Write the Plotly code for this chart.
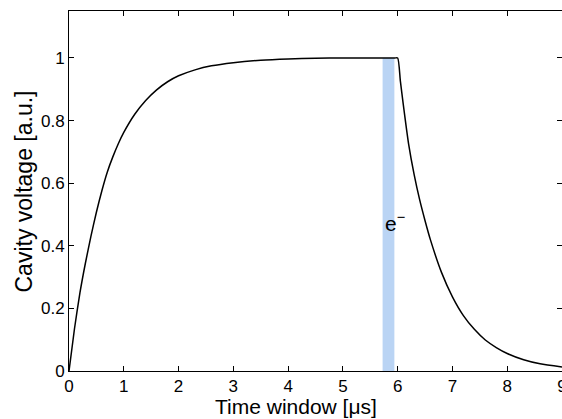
import plotly.graph_objects as go

# Data
time_us = [0, 0.1, 0.2, 0.3, 0.4, 0.5, 0.6, 0.7, 0.8, 0.9, 1.0, 1.2, 1.4, 1.6, 1.8, 2.0,
           2.3, 2.6, 3.0, 3.5, 4.0, 4.5, 5.0, 5.5, 5.95, 6.0,
           6.05, 6.1, 6.2, 6.3, 6.4, 6.5, 6.6, 6.8, 7.0, 7.2, 7.4, 7.6, 7.8, 8.0, 8.3, 8.6, 9.0]
voltage = [0, 0.135, 0.25, 0.345, 0.43, 0.507, 0.576, 0.636, 0.684, 0.726, 0.762, 0.82, 0.864,
           0.898, 0.924, 0.943, 0.962, 0.975, 0.985, 0.993, 0.997, 0.999, 1.0, 1.0, 1.0, 1.0,
           0.925, 0.855, 0.725, 0.628, 0.548, 0.48, 0.418, 0.315, 0.237, 0.177, 0.133, 0.099,
           0.075, 0.056, 0.036, 0.023, 0.013]

band_start = 5.725
band_end = 5.94
band_top = 1.0

label_x = 5.95
label_y = 0.475
label_text = "e<sup>−</sup>"

x_ticks = [0, 1, 2, 3, 4, 5, 6, 7, 8, 9]
x_tick_text = ["0", "1", "2", "3", "4", "5", "6", "7", "8", "9"]
y_ticks = [0, 0.2, 0.4, 0.6, 0.8, 1.0]
y_tick_text = ["0", "0.2", "0.4", "0.6", "0.8", "1"]

x_title = "Time window [μs]"
y_title = "Cavity voltage [a.u.]"

FONT = "Liberation Sans, Arial, Helvetica, sans-serif"

fig = go.Figure()

fig.add_trace(go.Scatter(
    x=[band_start, band_end, band_end, band_start, band_start],
    y=[0, 0, band_top, band_top, 0],
    fill="toself", fillcolor="#bad4f4", line=dict(width=0, color="#bad4f4"),
    mode="lines", hoverinfo="skip", showlegend=False))

fig.add_trace(go.Scatter(
    x=time_us, y=voltage, mode="lines",
    line=dict(color="black", width=1.5, shape="spline", smoothing=0.6),
    showlegend=False))

# invisible trace to carry the right-hand tick axis
fig.add_trace(go.Scatter(x=time_us, y=voltage, yaxis="y2", mode="lines",
                         line=dict(color="rgba(0,0,0,0)", width=0),
                         hoverinfo="skip", showlegend=False))

fig.add_annotation(x=label_x, y=label_y, xref="x", yref="y", text=label_text,
                   showarrow=False, font=dict(family=FONT, size=21, color="black"))

fig.add_annotation(x=(296 - 69) / 493, y=(371 - 406) / 360, xref="paper", yref="paper",
                   text=x_title, showarrow=False, xanchor="center", yanchor="middle",
                   font=dict(family=FONT, size=21, color="black"))
fig.add_annotation(x=(24 - 69) / 493, y=0.4986, xref="paper", yref="paper",
                   text=y_title, showarrow=False, textangle=-90,
                   xanchor="center", yanchor="middle",
                   font=dict(family=FONT, size=23, color="black"))

fig.update_layout(
    width=562, height=419,
    margin=dict(l=69, r=0, t=11, b=48, autoexpand=False),
    paper_bgcolor="white", plot_bgcolor="white",
    font=dict(family=FONT, size=17, color="black"),
    xaxis=dict(range=[0, 9], tickvals=x_ticks, ticktext=x_tick_text,
               ticks="inside", ticklen=5, tickwidth=1, tickcolor="black",
               showline=True, linecolor="black", linewidth=1, mirror="ticks",
               showgrid=False, zeroline=False, tickfont=dict(size=17),
               ticklabeloverflow="allow", automargin=False),
    yaxis=dict(range=[0, 1.15], tickvals=y_ticks, ticktext=y_tick_text,
               ticks="inside", ticklen=5, tickwidth=1, tickcolor="black",
               showline=True, linecolor="black", linewidth=1, mirror=False,
               showgrid=False, zeroline=False, tickfont=dict(size=17),
               automargin=False),
    yaxis2=dict(range=[0, 1.15], tickvals=y_ticks, overlaying="y", side="right",
                ticks="inside", ticklen=5, tickwidth=1, tickcolor="black",
                showticklabels=False, showline=False, showgrid=False, zeroline=False,
                automargin=False),
)

fig.write_html("out.html")
